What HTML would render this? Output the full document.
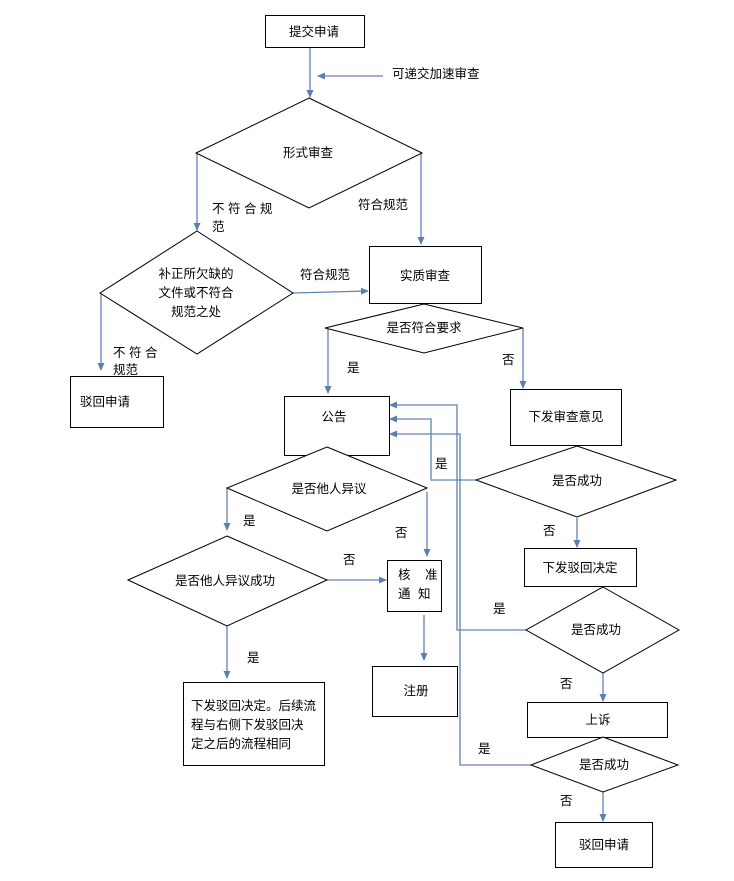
<!DOCTYPE html>
<html><head><meta charset="utf-8"><style>
html,body{margin:0;padding:0;background:#fff;}
svg{display:block;}
text{font-family:"Liberation Sans","Noto Sans CJK SC",sans-serif;font-size:12.5px;fill:#000;}
.b{fill:#fff;stroke:#000;stroke-width:1;}
.l{fill:none;stroke:#6283b3;stroke-width:1.3;}
</style></head><body>
<svg width="734" height="881" viewBox="0 0 734 881" xmlns="http://www.w3.org/2000/svg">
<defs><marker id="a" markerWidth="8" markerHeight="8" refX="7" refY="4" orient="auto" markerUnits="userSpaceOnUse"><path d="M0,0.5 L8,4 L0,7.5 z" fill="#5b7fb0"/></marker></defs>
<g class="l">
<path d="M310,48 V97" marker-end="url(#a)"/>
<path d="M383,76 H318" marker-end="url(#a)"/>
<path d="M197,153 V230" marker-end="url(#a)"/>
<path d="M421,153 V244" marker-end="url(#a)"/>
<path d="M293,293 L368,291" marker-end="url(#a)"/>
<path d="M101,293 V370" marker-end="url(#a)"/>
<path d="M328,328 V393" marker-end="url(#a)"/>
<path d="M523,328 V388" marker-end="url(#a)"/>
<path d="M476,480 H431 V419 H390" marker-end="url(#a)"/>
<path d="M526,630 H457 V405 H390" marker-end="url(#a)"/>
<path d="M531,765 H460 V434 H390" marker-end="url(#a)"/>
<path d="M577,518 V547" marker-end="url(#a)"/>
<path d="M603,673 V701" marker-end="url(#a)"/>
<path d="M603,792 V821" marker-end="url(#a)"/>
<path d="M227,488 V530" marker-end="url(#a)"/>
<path d="M427,492 V556" marker-end="url(#a)"/>
<path d="M327,580 H386" marker-end="url(#a)"/>
<path d="M424,615 V660" marker-end="url(#a)"/>
<path d="M227,626 V678" marker-end="url(#a)"/>
</g>
<rect class="b" x="265.5" y="15.5" width="99" height="32" stroke="#41608a"/>
<polygon class="b" points="309,98 422,153 309,208 196,153"/>
<polygon class="b" points="197,231 293,293 197,354 100,293"/>
<rect class="b" x="369.5" y="246.5" width="112" height="57"/>
<polygon class="b" points="424,304 523,328 424,353 325,328"/>
<rect class="b" x="70.5" y="376.5" width="93" height="51"/>
<rect class="b" x="284.5" y="396.5" width="105" height="59"/>
<rect class="b" x="510.5" y="389.5" width="111" height="56"/>
<polygon class="b" points="577,446 676,480 577,517 476,480"/>
<rect class="b" x="524.5" y="548.5" width="112" height="38"/>
<polygon class="b" points="603,587 679,630 603,673 526,630"/>
<rect class="b" x="527.5" y="702.5" width="140" height="35" stroke="#41608a"/>
<polygon class="b" points="603,737 678,765 603,792 531,765"/>
<rect class="b" x="555.5" y="822.5" width="97" height="45"/>
<polygon class="b" points="327,447 427,488 327,531 227,488"/>
<polygon class="b" points="227,536 327,580 227,626 128,580"/>
<rect class="b" x="387.5" y="560.5" width="54" height="51"/>
<rect class="b" x="372.5" y="666.5" width="85" height="50"/>
<rect class="b" x="183.5" y="682.5" width="141" height="83"/>
<text x="314" y="36" text-anchor="middle">提交申请</text>
<text x="392" y="78">可递交加速审查</text>
<text x="308" y="157" text-anchor="middle">形式审查</text>
<text x="212" y="213">不 符 合 规</text>
<text x="212" y="231">范</text>
<text x="358" y="209">符合规范</text>
<text x="196" y="278" text-anchor="middle">补正所欠缺的</text>
<text x="196" y="297" text-anchor="middle">文件或不符合</text>
<text x="196" y="316" text-anchor="middle">规范之处</text>
<text x="300" y="279">符合规范</text>
<text x="425" y="280" text-anchor="middle">实质审查</text>
<text x="424" y="332" text-anchor="middle">是否符合要求</text>
<text x="113" y="357">不 符 合</text>
<text x="113" y="374">规范</text>
<text x="347" y="372">是</text>
<text x="502" y="364">否</text>
<text x="80" y="406">驳回申请</text>
<text x="334" y="421" text-anchor="middle">公告</text>
<text x="566" y="421" text-anchor="middle">下发审查意见</text>
<text x="435" y="468">是</text>
<text x="577" y="485" text-anchor="middle">是否成功</text>
<text x="543" y="535">否</text>
<text x="580" y="572" text-anchor="middle">下发驳回决定</text>
<text x="493" y="613">是</text>
<text x="596" y="634" text-anchor="middle">是否成功</text>
<text x="560" y="688">否</text>
<text x="598" y="724" text-anchor="middle">上诉</text>
<text x="478" y="753">是</text>
<text x="604" y="769" text-anchor="middle">是否成功</text>
<text x="560" y="805">否</text>
<text x="604" y="849" text-anchor="middle">驳回申请</text>
<text x="329" y="493" text-anchor="middle">是否他人异议</text>
<text x="243" y="525">是</text>
<text x="395" y="537">否</text>
<text x="343" y="564">否</text>
<text x="225" y="585" text-anchor="middle">是否他人异议成功</text>
<text x="398" y="579">核</text><text x="425" y="579">准</text>
<text x="398" y="598">通</text><text x="418" y="598">知</text>
<text x="247" y="662">是</text>
<text x="416" y="695" text-anchor="middle">注册</text>
<text x="191" y="710">下发驳回决定。后续流</text>
<text x="191" y="729">程与右侧下发驳回决</text>
<text x="191" y="748">定之后的流程相同</text>
</svg>
</body></html>
